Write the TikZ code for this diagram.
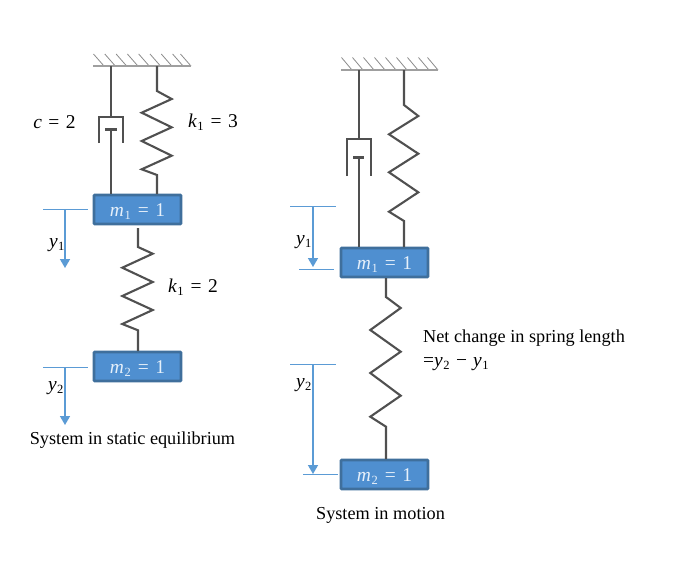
\documentclass[tikz,border=0pt]{standalone}
\usepackage{fontspec}
\setmainfont{Liberation Serif}
\usetikzlibrary{arrows.meta}
\definecolor{massfill}{HTML}{4F8FD0}
\definecolor{massedge}{HTML}{3F6F9C}
\definecolor{refblue}{HTML}{5B9BD5}
\definecolor{mech}{HTML}{505050}
\definecolor{masstext}{HTML}{E6F0FA}
\newcommand{\vr}[1]{\textit{#1}}
\newcommand{\sbs}[1]{\kern0.5pt\raisebox{-3pt}{\fontsize{12.5}{14}\selectfont #1}\kern0.5pt}
\newcommand{\eqs}{\kern6.5pt=\kern6.5pt}
\newcommand{\masstxt}[1]{\rule{0pt}{17pt}\vr{m}\sbs{#1}\eqs 1\hspace{11pt}}
\tikzset{
  massbox/.style={draw=massedge,fill=massfill,line width=2.6pt,rounded corners=0.8pt,minimum width=87pt,minimum height=29pt,inner sep=0pt,text=masstext,font=\fontsize{19.5}{22}\selectfont},
  mechline/.style={draw=mech,line width=2.4pt},
  springline/.style={draw=mech,line width=2.1pt,line join=miter},
  groundline/.style={draw=gray!75,line width=1.4pt},
  hatchline/.style={draw=gray!90,line width=0.8pt},
  refline/.style={draw=refblue,line width=1pt},
  disparrow/.style={draw=refblue,line width=1.5pt,-{Triangle[length=9pt,width=10pt]}},
  mathlabel/.style={inner sep=0pt,text=black,font=\fontsize{19.5}{22}\selectfont},
  caption/.style={inner sep=0pt,text=black,font=\fontsize{18.25}{22}\selectfont},
}
\begin{document}
\begin{tikzpicture}[x=1pt,y=-1pt]
\useasboundingbox[fill=white] (0,0) rectangle (678,584);
% masses
\node[massbox] (ma) at (137.5,209.5) {\masstxt{1}};
\node[massbox] (mb) at (137.5,366.5) {\masstxt{2}};
\node[massbox] (mc) at (384.5,262.5) {\masstxt{1}};
\node[massbox] (md) at (384.5,474.5) {\masstxt{2}};
% left ceiling
\coordinate (gla) at (93,66); \coordinate (glb) at (191,66);
\coordinate (glc) at (111,66); \coordinate (gls) at (157,66);
\foreach \x in {104,115.3,126.6,137.9,149.2,160.5,171.8,183.1,191}
  \draw[hatchline] (\x,66) -- ++(-10.5,-12);
\draw[groundline] (gla) -- (glb);
% left damper
\coordinate (lc) at (111,117);
\coordinate (lp) at (111,129);
\draw[mechline] (glc) -- (lc);
\draw[mechline] (99,143) -- (99,117) -- (123,117) -- (123,143);
\draw[mechline,line width=3pt] (105,129) -- (117,129);
\draw[mechline] (lp) -- (lp |- ma.north);
% left springs
\draw[springline] (gls) -- (157,91) -- (171.7,99) -- (141.7,112.7) -- (171.7,127.3) -- (141.7,141) -- (171.7,155.7) -- (141.7,169.3) -- (157,175) -- (157,194);
\draw[springline] (138,228) -- (138,247) -- (152.7,253.7) -- (122.3,267.7) -- (152.7,282) -- (122.3,296) -- (152.7,310) -- (122.3,324) -- (138,330.3) -- (138,351);
% left reference
\coordinate (ra) at (65,209); \coordinate (rb) at (65,268);
\coordinate (rc) at (65,367); \coordinate (rd) at (65,425);
\draw[refline] (43,209) -- (88,209);
\draw[refline] (43,367) -- (88,367);
\draw[disparrow] (ra) -- (rb);
\draw[disparrow] (rc) -- (rd);
% left labels
\node[mathlabel] (lc1) at (54.5,122) {\vr{c}\eqs 2};
\node[mathlabel] (lk1) at (213,122) {\vr{k}\sbs{1}\eqs 3};
\node[mathlabel] (lk2) at (193,287) {\vr{k}\sbs{1}\eqs 2};
\node[mathlabel] (ly1) at (57,245) {\vr{y}\sbs{1}};
\node[mathlabel] (ly2) at (56,388) {\vr{y}\sbs{2}};
\node[caption] (capa) at (132.5,440.5) {System in static equilibrium};
% right ceiling
\coordinate (gra) at (341,70); \coordinate (grb) at (438,70);
\coordinate (grc) at (359,70); \coordinate (grs) at (404,70);
\foreach \x in {352,363,374,385,396,407,418,429,438}
  \draw[hatchline] (\x,70) -- ++(-10.5,-12.5);
\draw[groundline] (gra) -- (grb);
% right damper
\coordinate (rcup) at (359,139);
\coordinate (rp) at (359,157);
\draw[mechline] (grc) -- (rcup);
\draw[mechline] (347,176) -- (347,139) -- (371,139) -- (371,176);
\draw[mechline,line width=3pt] (353,157) -- (364,157);
\draw[mechline] (rp) -- (rp |- mc.north);
% right springs
\draw[springline] (grs) -- (404,105) -- (418.3,116) -- (389,134.3) -- (418.3,153.7) -- (389,172.3) -- (418.3,192.3) -- (389,211.7) -- (404,221) -- (404,247);
\draw[springline] (386,278) -- (386,297) -- (400.7,308) -- (370.3,330) -- (400.7,351.7) -- (370.3,373) -- (400.7,395.7) -- (370.3,416.7) -- (386,426.7) -- (386,459);
% right reference
\coordinate (sa) at (313,206); \coordinate (sb) at (313,267);
\coordinate (sc) at (313,364); \coordinate (sd) at (313,474);
\draw[refline] (290,206) -- (336,206);
\draw[refline] (299,269) -- (334,269);
\draw[refline] (290,364) -- (336,364);
\draw[refline] (303,474) -- (338,474);
\draw[disparrow] (sa) -- (sb);
\draw[disparrow] (sc) -- (sd);
% right labels
\node[mathlabel] (ry1) at (304,242) {\vr{y}\sbs{1}};
\node[mathlabel] (ry2) at (304,385) {\vr{y}\sbs{2}};
\node[caption,anchor=west] (net) at (423,338.5) {Net change in spring length};
\node[mathlabel,anchor=west] (neq) at (423,364) {=\vr{y}\sbs{2}\kern6pt−\kern6pt\vr{y}\sbs{1}};
\node[caption] (capb) at (380.5,515.5) {System in motion};
\end{tikzpicture}
\end{document}
